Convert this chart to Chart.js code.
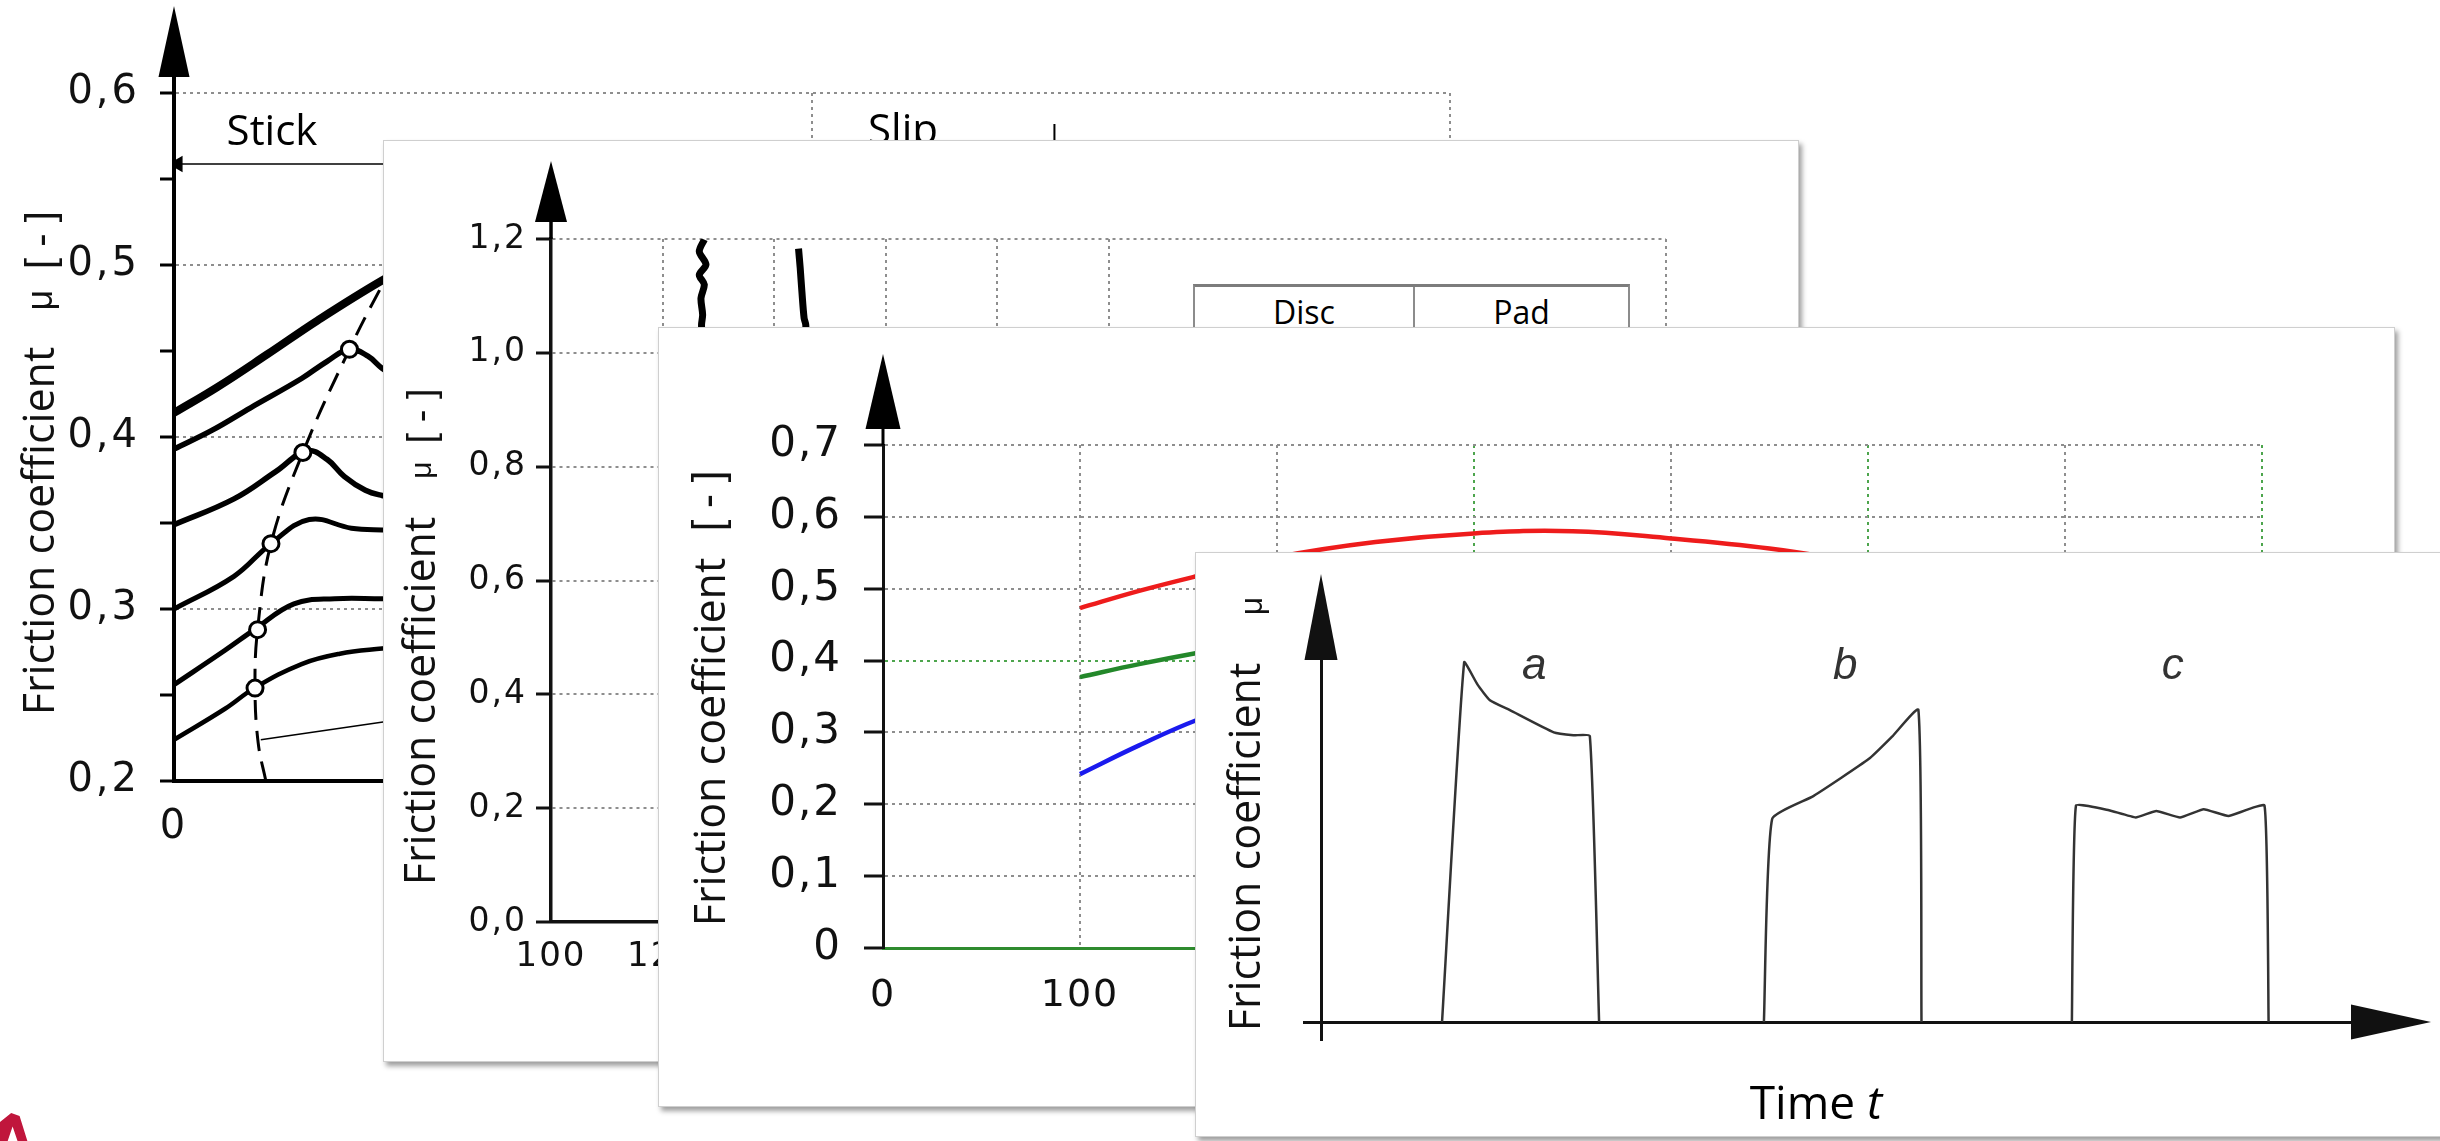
<!DOCTYPE html>
<html>
<head>
<meta charset="utf-8">
<title>Friction coefficient</title>
<script src="https://cdn.jsdelivr.net/npm/chart.js@4.4.1/dist/chart.umd.min.js"></script>
<style>
  html, body { margin: 0; padding: 0; background: #fff; }
  body { width: 2440px; height: 1141px; overflow: hidden; position: relative; }
  .panel { position: absolute; background: #fff; }
  .card { border: 1px solid #cfcfcf; box-shadow: 3px 4px 5px rgba(0, 0, 0, 0.38); }
  .panel canvas { position: absolute; left: 0; top: 0; }
  .txt { position: absolute; white-space: nowrap; color: #111; line-height: 1; }
  .rot { transform: translate(-50%, -50%) rotate(-90deg); }
  .ctr { transform: translate(-50%, -50%); }
  .ytitle { font-family: "Open Sans", sans-serif; font-size: 43px; }
  .small { font-family: "Liberation Sans", Arial, sans-serif; }
  .note { font-family: "Open Sans", sans-serif; color: #000; }
  .table { position: absolute; display: flex; background: #fff;
           border-top: 3px solid #7c7c7c; border-left: 2px solid #8c8c8c; border-right: 2px solid #8c8c8c; }
  .table div { display: flex; justify-content: center; padding-top: 0; font-size: 32px; line-height: 1; color: #000; }
  .logo { position: absolute; left: 0; top: 1113px; width: 28px; height: 30px; background: #c0163c;
          clip-path: polygon(0 100%, 0 30%, 40% 0, 70% 10%, 100% 100%, 65% 100%, 45% 45%, 25% 100%); }
</style>
</head>
<body>

<div class="panel" id="p1" style="left:0;top:0;width:1500px;height:900px;background:transparent;">
  <canvas id="c1" width="1500" height="900"></canvas>
  <span class="txt ytitle rot" style="left:37px;top:531px;">Friction coefficient</span>
  <span class="txt small rot" style="left:40px;top:300px;font-size:36px;">μ</span>
  <span class="txt small rot" style="left:40px;top:240px;font-size:40px;">[ - ]</span>
  <span class="txt note ctr" style="left:272px;top:129px;font-size:42px;">Stick</span>
  <span class="txt note ctr" style="left:903px;top:128px;font-size:42px;">Slip</span>
</div>

<div class="panel card" id="p2" style="left:383px;top:140px;width:1414px;height:920px;">
  <canvas id="c2" width="1414" height="920"></canvas>
  <span class="txt ytitle rot" style="left:34px;top:560px;">Friction coefficient</span>
  <span class="txt small rot" style="left:37px;top:329px;font-size:30px;">μ</span>
  <span class="txt small rot" style="left:37px;top:275px;font-size:38px;">[ - ]</span>
  <div class="table note" style="left:809px;top:143px;width:433px;height:60px;">
    <div style="width:218px;border-right:2px solid #8c8c8c;padding-top:9px;">Disc</div>
    <div style="flex:1;padding-top:9px;">Pad</div>
  </div>
</div>

<div class="panel card" id="p3" style="left:658px;top:327px;width:1735px;height:778px;">
  <canvas id="c3" width="1735" height="778"></canvas>
  <span class="txt ytitle rot" style="left:49px;top:414px;">Friction coefficient</span>
  <span class="txt small rot" style="left:49px;top:173px;font-size:42px;">[ - ]</span>
</div>

<div class="panel card" id="p4" style="left:1195px;top:552px;width:1260px;height:583px;">
  <canvas id="c4" width="1260" height="583"></canvas>
  <span class="txt ytitle rot" style="left:47px;top:294px;">Friction coefficient</span>
  <span class="txt small rot" style="left:55px;top:53px;font-size:32px;">μ</span>
  <span class="txt note ctr" style="left:620px;top:548px;font-size:46px;">Time <i>t</i></span>
</div>

<div class="logo"></div>

<script>
// ---- panel 1: stick / slip curves -------------------------------------
const p1YTicks = [0.2, 0.25, 0.3, 0.35, 0.4, 0.45, 0.5, 0.55, 0.6];
const p1XTicks = [0, 5, 10];
const p1Curve1X = [0, 0.34, 0.73, 1.13, 1.63, 1.8];
const p1Curve1Y = [0.414, 0.429, 0.448, 0.468, 0.491, 0.497];
const p1Curve2X = [0, 0.3, 0.6, 1.0, 1.2, 1.375, 1.52, 1.63, 1.8];
const p1Curve2Y = [0.393, 0.404, 0.417, 0.434, 0.444, 0.451, 0.447, 0.440, 0.432];
const p1Curve3X = [0, 0.47, 0.8, 1.04, 1.2, 1.336, 1.5, 1.63, 1.8];
const p1Curve3Y = [0.349, 0.364, 0.380, 0.392, 0.387, 0.377, 0.369, 0.366, 0.364];
const p1Curve4X = [0, 0.47, 0.76, 1.06, 1.39, 1.63, 1.8];
const p1Curve4Y = [0.300, 0.319, 0.338, 0.352, 0.347, 0.346, 0.346];
const p1Curve5X = [0, 0.4, 0.63, 0.94, 1.26, 1.63, 1.8];
const p1Curve5Y = [0.256, 0.276, 0.288, 0.303, 0.306, 0.306, 0.306];
const p1Curve6X = [0, 0.4, 0.63, 1.0, 1.3, 1.63, 1.8];
const p1Curve6Y = [0.224, 0.242, 0.254, 0.268, 0.274, 0.277, 0.278];
const p1PeakX = [0.635, 0.655, 0.76, 1.01, 1.375];
const p1PeakY = [0.254, 0.288, 0.338, 0.391, 0.451];
const p1LocusX = [0.72, 0.66, 0.635, 0.655, 0.76, 1.01, 1.375, 1.63, 1.8];
const p1LocusY = [0.2, 0.222, 0.254, 0.288, 0.338, 0.391, 0.451, 0.488, 0.51];
const p1LeaderX = [0.68, 1.8];
const p1LeaderY = [0.224, 0.236];
const p1StickX = [0.03, 2.0];
const p1StickY = [0.5587, 0.5587];
const p1SlipMarkX = [6.9, 6.9];
const p1SlipMarkY = [0.582, 0.55];

// ---- panel 2: disc / pad traces ---------------------------------------
const p2YTicks = [0, 0.2, 0.4, 0.6, 0.8, 1.0, 1.2];
const p2XTicks = [100, 120, 140, 160, 180, 200, 220, 240, 260, 280, 300];
const p2GridX = [120, 140, 160, 180, 200, 300];
const p2Trace1X = [127.5, 126.6, 127.8, 126.6, 127.5, 126.9, 127.2, 127.0, 127.2];
const p2Trace1Y = [1.199, 1.178, 1.155, 1.137, 1.120, 1.096, 1.067, 1.049, 1.0];
const p2Trace2X = [144.4, 144.7, 145.0, 145.4, 145.7, 145.8];
const p2Trace2Y = [1.183, 1.149, 1.108, 1.061, 1.049, 1.0];

// ---- panel 3: red / green / blue ---------------------------------------
const p3YTicks = [0, 0.1, 0.2, 0.3, 0.4, 0.5, 0.6, 0.7];
const p3XTicks = [0, 100, 200, 300, 400, 500, 600, 700];
const p3GreenGridX = [300, 500, 700];
const p3X = [100, 130, 160, 200, 250, 300, 350, 400, 450, 500];
const p3Red = [0.473, 0.497, 0.518, 0.544, 0.565, 0.577, 0.580, 0.570, 0.556, 0.535];
const p3Green = [0.377, 0.395, 0.411, 0.430];
const p3Blue = [0.242, 0.282, 0.318, 0.355];

// ---- panel 4: a / b / c sketches -----------------------------------------
const p4AX = [11.75, 13.9, 15.2, 16.4, 18.3, 22.6, 24.5, 26.1, 27.0];
const p4AY = [0, 0.994, 0.932, 0.889, 0.862, 0.800, 0.792, 0.790, 0];
const p4BX = [43.0, 43.8, 47.8, 53.2, 55.5, 58.0, 58.3];
const p4BY = [0, 0.561, 0.624, 0.727, 0.790, 0.862, 0];
const p4CX = [72.9, 73.3, 76.5, 79.1, 81.1, 83.4, 85.7, 88.1, 91.6, 92.0];
const p4CY = [0, 0.598, 0.585, 0.565, 0.583, 0.565, 0.588, 0.569, 0.598, 0];
const p4Letters = ['a', 'b', 'c'];
const p4LetterX = [20.7, 50.9, 82.7];
const p4LetterY = [0.98, 0.98, 0.98];

const GRID_GREY = '#8e8e8e';
const GRID_GREEN = '#4da54d';
const TICK_FONT = 'DejaVu Sans';

function pairs(xs, ys) {
	return xs.map((x, i) => ({ x: x, y: ys[i] }));
}

function lineSet(xs, ys, color, width, extra) {
	return Object.assign({
		data: pairs(xs, ys),
		borderColor: color,
		backgroundColor: color,
		borderWidth: width,
		pointRadius: 0,
		tension: 0.4,
		fill: false
	}, extra || {});
}

function setTicks(values) {
	return function (scale) {
		scale.ticks = values.map(v => ({ value: v }));
	};
}

function fixedSize(size) {
	return function (scale) {
		if (scale.isHorizontal()) {
			scale.height = size;
		} else {
			scale.width = size;
		}
	};
}

function comma(v) {
	return v.toFixed(1).replace('.', ',');
}

function near(a, b) {
	return Math.abs(a - b) < 1e-6;
}

function tickValue(ctx) {
	return ctx.tick ? ctx.tick.value : NaN;
}

// arrow heads on the axes plus a few labels placed in data space
const axisDecor = {
	id: 'axisDecor',
	beforeDraw: function (chart, args, opts) {
		if (opts.spacing && 'letterSpacing' in chart.ctx) {
			chart.ctx.letterSpacing = opts.spacing;
		}
	},
	afterDraw: function (chart, args, opts) {
		const ctx = chart.ctx;
		const a = chart.chartArea;
		ctx.save();
		if ('letterSpacing' in ctx) {
			ctx.letterSpacing = '0px';
		}
		ctx.strokeStyle = opts.color || '#000';
		ctx.fillStyle = opts.color || '#000';
		ctx.lineWidth = opts.lineWidth || 3;
		if (opts.up) {
			const x = a.left;
			const tip = a.top - opts.up.len;
			const base = tip + opts.up.head;
			const w = opts.up.width / 2;
			ctx.beginPath();
			ctx.moveTo(x, a.top);
			ctx.lineTo(x, base);
			ctx.stroke();
			ctx.beginPath();
			ctx.moveTo(x, tip);
			ctx.lineTo(x - w, base);
			ctx.lineTo(x + w, base);
			ctx.closePath();
			ctx.fill();
		}
		if (opts.right) {
			const y = a.bottom;
			const tip = a.right + opts.right.len;
			const base = tip - opts.right.head;
			const w = opts.right.width / 2;
			ctx.beginPath();
			ctx.moveTo(a.right, y);
			ctx.lineTo(base, y);
			ctx.stroke();
			ctx.beginPath();
			ctx.moveTo(tip, y);
			ctx.lineTo(base, y - w);
			ctx.lineTo(base, y + w);
			ctx.closePath();
			ctx.fill();
		}
		(opts.labels || []).forEach(l => {
			ctx.font = l.font;
			ctx.fillStyle = l.color;
			ctx.textAlign = 'center';
			ctx.textBaseline = 'middle';
			ctx.fillText(l.text, chart.scales.x.getPixelForValue(l.x), chart.scales.y.getPixelForValue(l.y));
		});
		ctx.restore();
	}
};

function baseOptions(padding, decor) {
	return {
		responsive: false,
		animation: false,
		events: [],
		layout: { padding: padding },
		plugins: {
			legend: { display: false },
			tooltip: { enabled: false },
			axisDecor: decor
		}
	};
}

// ---- panel 1 ----
const opts1 = baseOptions({ left: 0, top: 93, right: 50, bottom: 39 }, { up: { len: 87, head: 71, width: 31 }, lineWidth: 4, spacing: '3px' });
opts1.scales = {
	x: {
		type: 'linear', min: 0, max: 10,
		afterBuildTicks: setTicks(p1XTicks),
		afterFit: fixedSize(80),
		ticks: {
			callback: v => (v === 0 ? '0' : ''),
			font: { family: TICK_FONT, size: 40 }, color: '#111', padding: 23, maxRotation: 0, autoSkip: false
		},
		grid: { color: c => (tickValue(c) > 0 ? GRID_GREY : 'transparent'), lineWidth: 2, drawTicks: false },
		border: { color: '#000', width: 4, dash: [3, 4] }
	},
	y: {
		min: 0.2, max: 0.6,
		afterBuildTicks: setTicks(p1YTicks),
		afterFit: fixedSize(174),
		ticks: {
			callback: v => (near(v * 10, Math.round(v * 10)) ? comma(v) : ''),
			font: { family: TICK_FONT, size: 40 }, color: '#111', padding: 20, autoSkip: false
		},
		grid: {
			color: c => {
				const v = tickValue(c);
				return near(v * 10, Math.round(v * 10)) && v > 0.21 ? GRID_GREY : 'transparent';
			},
			lineWidth: 2, tickLength: 14, tickColor: '#000', tickWidth: 3
		},
		border: { color: '#000', width: 4, dash: [3, 4] }
	}
};
new Chart(document.getElementById('c1'), {
	type: 'line',
	data: {
		datasets: [
			lineSet(p1PeakX, p1PeakY, '#000', 0, {
				showLine: false, pointRadius: 8, pointBackgroundColor: '#fff', pointBorderColor: '#000', pointBorderWidth: 3
			}),
			lineSet(p1Curve1X, p1Curve1Y, '#000', 8),
			lineSet(p1Curve2X, p1Curve2Y, '#000', 5.5),
			lineSet(p1Curve3X, p1Curve3Y, '#000', 5.5),
			lineSet(p1Curve4X, p1Curve4Y, '#000', 5),
			lineSet(p1Curve5X, p1Curve5Y, '#000', 5),
			lineSet(p1Curve6X, p1Curve6Y, '#000', 4.5),
			lineSet(p1LocusX, p1LocusY, '#000', 3, { borderDash: [20, 11] }),
			lineSet(p1LeaderX, p1LeaderY, '#000', 1.5, { tension: 0 }),
			lineSet(p1StickX, p1StickY, '#000', 1.5, {
				tension: 0, pointStyle: 'triangle', pointRotation: -90, pointRadius: [8, 0], pointBackgroundColor: '#000'
			}),
			lineSet(p1SlipMarkX, p1SlipMarkY, '#000', 2, { tension: 0 })
		]
	},
	options: opts1,
	plugins: [axisDecor]
});

// ---- panel 2 ----
const opts2 = baseOptions({ left: 0, top: 98, right: 132, bottom: 39 }, { up: { len: 78, head: 61, width: 32 }, lineWidth: 3.5, spacing: '2px' });
opts2.scales = {
	x: {
		type: 'linear', min: 100, max: 300,
		afterBuildTicks: setTicks(p2XTicks),
		afterFit: fixedSize(100),
		ticks: {
			callback: v => String(v),
			font: { family: TICK_FONT, size: 34 }, color: '#111', padding: 15, maxRotation: 0, autoSkip: false
		},
		grid: { color: c => (p2GridX.includes(tickValue(c)) ? GRID_GREY : 'transparent'), lineWidth: 2, drawTicks: false },
		border: { color: '#111', width: 3.5, dash: [3, 4] }
	},
	y: {
		min: 0, max: 1.2,
		afterBuildTicks: setTicks(p2YTicks),
		afterFit: fixedSize(167),
		ticks: {
			callback: v => comma(v),
			font: { family: TICK_FONT, size: 33 }, color: '#111', padding: 9, autoSkip: false
		},
		grid: {
			color: c => (tickValue(c) > 0 ? GRID_GREY : 'transparent'),
			lineWidth: 2, tickLength: 15, tickColor: '#111', tickWidth: 3
		},
		border: { color: '#111', width: 3.5, dash: [3, 4] }
	}
};
new Chart(document.getElementById('c2'), {
	type: 'line',
	data: {
		datasets: [
			lineSet(p2Trace1X, p2Trace1Y, '#000', 7, { tension: 0.3 }),
			lineSet(p2Trace2X, p2Trace2Y, '#000', 7, { tension: 0.3 })
		]
	},
	options: opts2,
	plugins: [axisDecor]
});

// ---- panel 3 ----
const opts3 = baseOptions({ left: 0, top: 117, right: 132, bottom: 48 }, { up: { len: 91, head: 75, width: 35 }, lineWidth: 3, spacing: '2px' });
opts3.scales = {
	x: {
		type: 'linear', min: 0, max: 700,
		afterBuildTicks: setTicks(p3XTicks),
		afterFit: fixedSize(110),
		ticks: {
			callback: v => String(v),
			font: { family: TICK_FONT, size: 38 }, color: '#111', padding: 25, maxRotation: 0, autoSkip: false
		},
		grid: {
			color: c => {
				const v = tickValue(c);
				if (v === 0) return 'transparent';
				return p3GreenGridX.includes(v) ? GRID_GREEN : GRID_GREY;
			},
			lineWidth: 2, drawTicks: false
		},
		border: { color: '#2e8b2e', width: 3, dash: [3, 4] }
	},
	y: {
		min: 0, max: 0.7,
		afterBuildTicks: setTicks(p3YTicks),
		afterFit: fixedSize(224),
		ticks: {
			callback: v => (v === 0 ? '0' : comma(v)),
			font: { family: TICK_FONT, size: 42 }, color: '#111', padding: 22, autoSkip: false
		},
		grid: {
			color: c => {
				const v = tickValue(c);
				if (v === 0) return 'transparent';
				return near(v, 0.4) ? GRID_GREEN : GRID_GREY;
			},
			lineWidth: 2, tickLength: 19, tickColor: '#111', tickWidth: 3
		},
		border: { color: '#111', width: 3, dash: [3, 4] }
	}
};
new Chart(document.getElementById('c3'), {
	type: 'line',
	data: {
		datasets: [
			lineSet(p3X, p3Red, '#ee1c1c', 4.5),
			lineSet(p3X.slice(0, p3Green.length), p3Green, '#23882a', 4.5),
			lineSet(p3X.slice(0, p3Blue.length), p3Blue, '#1a1aee', 4.5)
		]
	},
	options: opts3,
	plugins: [axisDecor]
});

// ---- panel 4 ----
const opts4 = baseOptions({ left: 0, top: 107, right: 105, bottom: 24 }, {
	up: { len: 86, head: 86, width: 33 },
	right: { len: 80, head: 80, width: 35 },
	lineWidth: 3,
	color: '#111',
	labels: p4Letters.map((t, i) => ({
		text: t, x: p4LetterX[i], y: p4LetterY[i], font: 'italic 44px "Liberation Sans"', color: '#333'
	}))
});
opts4.scales = {
	x: {
		type: 'linear', min: 0, max: 100,
		afterBuildTicks: setTicks([0]),
		afterFit: fixedSize(90),
		ticks: { callback: () => '', autoSkip: false },
		grid: { color: 'transparent', tickLength: 19, tickColor: '#111', tickWidth: 3 },
		border: { color: '#111', width: 3 }
	},
	y: {
		min: 0, max: 1,
		afterBuildTicks: setTicks([0]),
		afterFit: fixedSize(125),
		ticks: { callback: () => '', autoSkip: false },
		grid: { color: 'transparent', tickLength: 18, tickColor: '#111', tickWidth: 3 },
		border: { color: '#111', width: 3 }
	}
};
new Chart(document.getElementById('c4'), {
	type: 'line',
	data: {
		datasets: [
			lineSet(p4AX, p4AY, '#333', 2.5, { tension: 0.15 }),
			lineSet(p4BX, p4BY, '#333', 2.5, { tension: 0.15 }),
			lineSet(p4CX, p4CY, '#333', 2.5, { tension: 0.1 })
		]
	},
	options: opts4,
	plugins: [axisDecor]
});
</script>
</body>
</html>
